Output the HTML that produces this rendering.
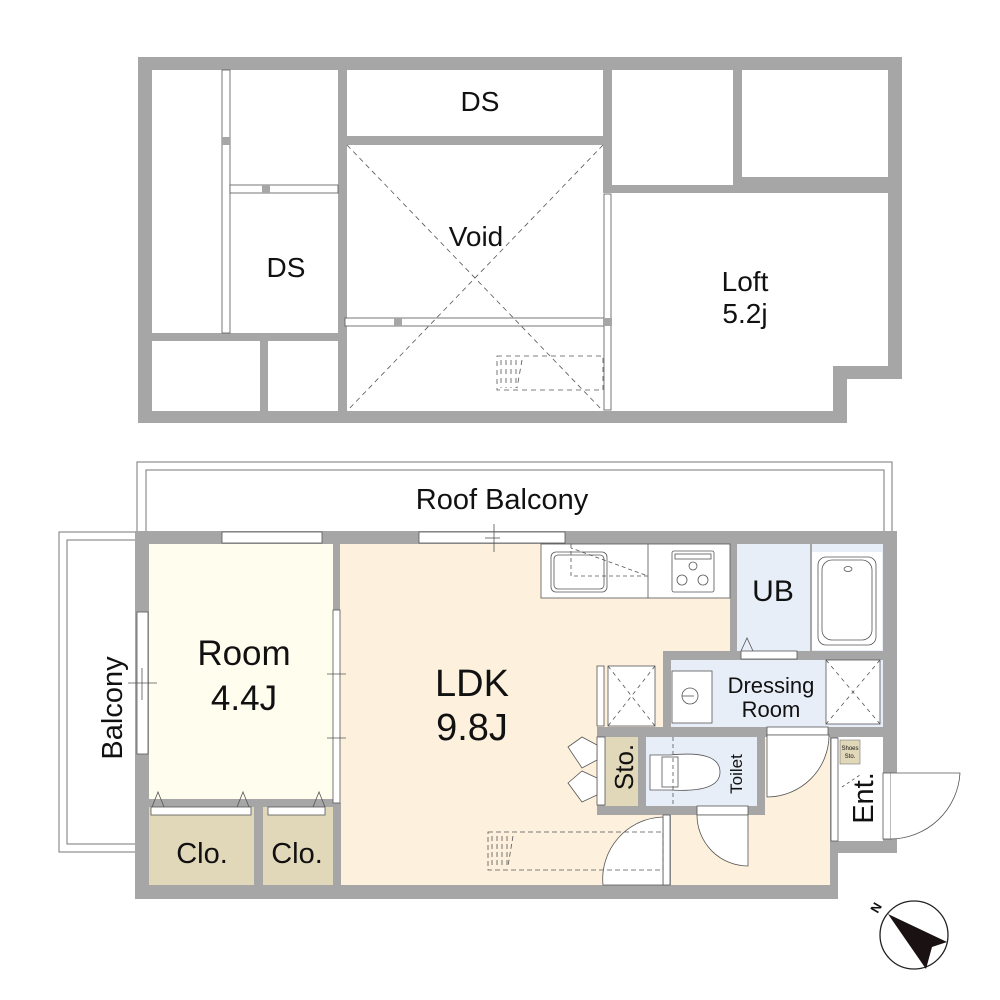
<!DOCTYPE html>
<html><head><meta charset="utf-8"><style>
html,body{margin:0;padding:0;background:#fff;}
svg{display:block;}
text{font-family:"Liberation Sans",sans-serif;fill:#111;}
</style></head><body>
<svg width="1000" height="1000" viewBox="0 0 1000 1000" xmlns="http://www.w3.org/2000/svg">
<g fill="#a6a6a6">
<path d="M138 57 H902 V379 H847 V423 H138 Z M152 70 V411 H833 V366 H888 V70 Z" fill-rule="evenodd"/>
<rect x="338" y="70" width="9" height="341"/>
<rect x="152" y="333" width="186" height="8"/>
<rect x="260" y="341" width="8" height="70"/>
<rect x="347" y="136" width="256" height="9"/>
<rect x="603" y="70" width="9" height="123"/>
<rect x="612" y="185" width="121" height="8"/>
<rect x="733" y="70" width="9" height="123"/>
<rect x="742" y="177" width="146" height="16"/>
</g>
<g fill="#fff" stroke="#555" stroke-width="0.8">
<rect x="222" y="70" width="8" height="263"/>
<rect x="230" y="185" width="108" height="8"/>
<rect x="345" y="318" width="259" height="8"/>
<rect x="604" y="194" width="7" height="216"/>
</g>
<g fill="#a6a6a6"><rect x="222" y="137" width="8" height="8"/><rect x="262" y="185" width="8" height="8"/><rect x="394" y="318" width="8" height="8"/><rect x="603" y="318" width="9" height="8"/></g>
<g stroke="#555" stroke-width="0.8" stroke-dasharray="5,4" fill="none">
<line x1="347" y1="145" x2="603" y2="411"/>
<line x1="603" y1="145" x2="347" y2="411"/>
<rect x="497" y="356" width="106" height="34"/>
<path d="M501 360 V388 M506 360 V388 M511 360 V388 M516 360 V388 M522 360 L517 388"/>
</g>
<text x="480" y="111" font-size="28" text-anchor="middle">DS</text>
<text x="286" y="277" font-size="28" text-anchor="middle">DS</text>
<text x="476" y="246" font-size="28" text-anchor="middle">Void</text>
<text x="745" y="291" font-size="28" text-anchor="middle">Loft</text>
<text x="745" y="323" font-size="28" text-anchor="middle">5.2j</text>

<g fill="none" stroke="#777" stroke-width="1">
<path d="M137 531 V462 H892 V531"/>
<path d="M146 531 V470 H884 V531"/>
<path d="M135 532 H59 V852 H135"/>
<path d="M135 540 H67 V844 H135"/>
</g>
<rect x="149" y="544" width="184" height="263" fill="#fffdee"/>
<rect x="340" y="544" width="390" height="341" fill="#fdf1dd"/>
<rect x="597" y="660" width="236" height="225" fill="#fdf1dd"/>
<rect x="149" y="807" width="105" height="78" fill="#e1d7b9"/>
<rect x="263" y="807" width="70" height="78" fill="#e1d7b9"/>
<rect x="605" y="737" width="33" height="69" fill="#e1d7b9"/>
<rect x="737" y="544" width="146" height="107" fill="#e8eef8"/>
<rect x="671" y="660" width="212" height="67" fill="#e8eef8"/>
<rect x="646" y="737" width="111" height="69" fill="#e8eef8"/>
<rect x="838" y="737" width="45" height="104" fill="#fff"/>
<g fill="#a6a6a6">
<rect x="135" y="531" width="762" height="13"/>
<rect x="135" y="531" width="14" height="368"/>
<rect x="135" y="885" width="703" height="14"/>
<rect x="883" y="531" width="14" height="322"/>
<rect x="830" y="841" width="67" height="12"/>
<rect x="830" y="737" width="8" height="162"/>
<rect x="730" y="544" width="7" height="116"/>
<rect x="663" y="651" width="220" height="9"/>
<rect x="663" y="651" width="8" height="86"/>
<rect x="597" y="727" width="286" height="10"/>
<rect x="597" y="727" width="8" height="88"/>
<rect x="597" y="806" width="168" height="9"/>
<rect x="757" y="727" width="8" height="88"/>
<rect x="638" y="737" width="8" height="69"/>
<rect x="333" y="544" width="7" height="66"/>
<rect x="254" y="807" width="9" height="78"/>
<rect x="333" y="803" width="8" height="82"/>
<rect x="149" y="799" width="184" height="8"/>
<rect x="663" y="815" width="8" height="70"/>
<rect x="810" y="544" width="2" height="107"/>
</g>
<rect x="812" y="552" width="70" height="98" fill="#fff"/>
<g fill="#fff" stroke="#555" stroke-width="0.8">
<rect x="222" y="532" width="100" height="11"/>
<rect x="419" y="532" width="146" height="11"/>
<rect x="137" y="612" width="11" height="142"/>
<rect x="333" y="610" width="7" height="193"/>
<rect x="151" y="807" width="100" height="8"/>
<rect x="268" y="807" width="57" height="8"/>
<rect x="741" y="651" width="56" height="8"/>
<rect x="767" y="727" width="61" height="8"/>
<rect x="697" y="806" width="51" height="9"/>
<rect x="663" y="815" width="7" height="70"/>
<rect x="831" y="738" width="7" height="103"/>
<rect x="883" y="773" width="8" height="66"/>
<rect x="597" y="666" width="7" height="60"/>
<rect x="597" y="737" width="8" height="68"/>
</g>
<g stroke="#555" stroke-width="0.8" fill="none">
<line x1="128" y1="683" x2="157" y2="683"/><line x1="142" y1="668" x2="142" y2="700"/>
<line x1="327" y1="674" x2="346" y2="674"/><line x1="327" y1="738" x2="346" y2="738"/>
<line x1="494" y1="524" x2="494" y2="552"/><line x1="485" y1="538" x2="500" y2="538"/>
<path d="M152 807 L158 792 L164 807 M237 807 L243 792 L249 807 M313 807 L319 792 L325 807 M741 651 L747 638 L753 651"/>
<rect x="541" y="544" width="189" height="54" fill="#fff"/>
<rect x="551" y="552" width="56" height="40" rx="5"/>
<rect x="554" y="555" width="50" height="34" rx="4"/>
<rect x="672" y="551" width="42" height="41" rx="2"/>
<rect x="675" y="554" width="36" height="5"/>
<circle cx="693" cy="566" r="4"/><circle cx="682" cy="580" r="5"/><circle cx="703" cy="580" r="5"/>
<line x1="648" y1="544" x2="648" y2="598"/>
<path d="M571 544 V576 H648 L571 548" stroke-dasharray="4,3"/>
<rect x="818" y="557" width="58" height="88" rx="8"/>
<rect x="822" y="560" width="50" height="80" rx="10"/>
<ellipse cx="848" cy="569" rx="4" ry="2.5"/>
<rect x="608" y="666" width="47" height="60" fill="#fff"/>
<path d="M608 666 L655 726 M655 666 L608 726" stroke-dasharray="4,4"/>
<rect x="826" y="660" width="54" height="64" fill="#fff"/>
<path d="M826 660 L880 724 M880 660 L826 724" stroke-dasharray="4,4"/>
<rect x="672" y="671" width="40" height="52" fill="#fff"/>
<circle cx="690" cy="696" r="8"/><line x1="682" y1="696" x2="694" y2="696"/>
<path d="M650 755 H670 Q720 750 720 772 Q720 793 670 790 H650 Z" fill="#fff"/>
<rect x="662" y="757" width="16" height="30" fill="#fff"/>
<line x1="673" y1="737" x2="673" y2="806" stroke-dasharray="4,3"/>
<path d="M767 735 V797 A62 62 0 0 0 829 735 Z" fill="#fff"/>
<path d="M748 815 V866 A51 51 0 0 1 697 815 Z" fill="#fff"/>
<path d="M663 817 V885 H603 A62 62 0 0 1 663 817" fill="#fff"/>
<path d="M568 747 L582 737 L597 745 L597 760 L582 768 Z" fill="#fff"/>
<path d="M568 783 L582 771 L597 778 L597 795 L582 802 Z" fill="#fff"/>
<path d="M891 773 H960 A70 70 0 0 1 891 839" fill="#fff"/>
<line x1="842" y1="787" x2="860" y2="775" stroke-dasharray="3,3"/>
<g stroke-dasharray="5,3">
<rect x="488" y="832" width="175" height="38"/>
<path d="M492 836 V866 M497 836 V866 M502 836 V866 M507 836 V866 M513 836 L508 866"/>
</g>
</g>
<rect x="840" y="740" width="20" height="24" fill="#e1d7b9" stroke="#777" stroke-width="0.6"/>
<text x="850" y="750" font-size="6" text-anchor="middle">Shoes</text>
<text x="850" y="758" font-size="6" text-anchor="middle">Sto.</text>

<text x="502" y="509" font-size="29" text-anchor="middle">Roof Balcony</text>
<text x="244" y="665" font-size="35" text-anchor="middle">Room</text>
<text x="244" y="710" font-size="35" text-anchor="middle">4.4J</text>
<text x="472" y="696" font-size="38" text-anchor="middle">LDK</text>
<text x="472" y="740" font-size="38" text-anchor="middle">9.8J</text>
<text x="202" y="863" font-size="29" text-anchor="middle">Clo.</text>
<text x="297" y="863" font-size="29" text-anchor="middle">Clo.</text>
<text x="773" y="601" font-size="30" text-anchor="middle">UB</text>
<text x="771" y="693" font-size="22" text-anchor="middle">Dressing</text>
<text x="771" y="717" font-size="22" text-anchor="middle">Room</text>
<text transform="translate(122 708) rotate(-90)" font-size="29" text-anchor="middle">Balcony</text>
<text transform="translate(633 767) rotate(-90)" font-size="26" text-anchor="middle">Sto.</text>
<text transform="translate(742 774) rotate(-90)" font-size="17" text-anchor="middle">Toilet</text>
<text transform="translate(873 798) rotate(-90)" font-size="29" text-anchor="middle">Ent.</text>

<circle cx="914" cy="935" r="34" fill="none" stroke="#222" stroke-width="1.3"/>
<path d="M888 914 L947 942 L932 947 L926 969 Z" fill="#1a1212"/>
<text transform="translate(880 910) rotate(-60)" font-size="13" text-anchor="middle" font-weight="bold">N</text>
</svg>
</body></html>
